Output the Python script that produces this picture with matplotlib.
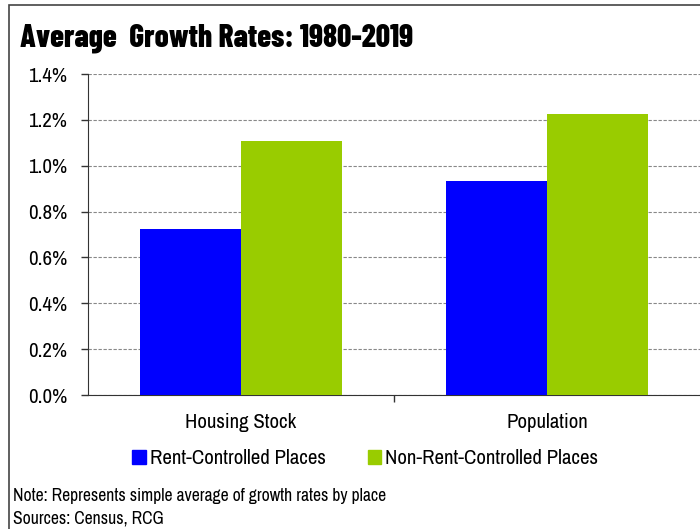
import matplotlib
matplotlib.use('Agg')
import matplotlib.pyplot as plt
import matplotlib.patches as mpatches
import numpy as np

# data
categories = ['Housing Stock', 'Population']
series_names = ['Rent-Controlled Places', 'Non-Rent-Controlled Places']
rent_controlled = [0.724, 0.933]
non_rent_controlled = [1.108, 1.225]
yticks = [0.0, 0.2, 0.4, 0.6, 0.8, 1.0, 1.2, 1.4]

plt.rcParams['font.family'] = ['Archivo Narrow', 'DejaVu Sans']
plt.rcParams['font.stretch'] = 'condensed'
TITLE_FONT = ['Barlow Condensed', 'DejaVu Sans']

fig = plt.figure(figsize=(7.0, 5.29), dpi=100)
ax = fig.add_axes([0.1257, 0.2533, 0.8743, 0.6068])

x = np.arange(len(categories))
w = 0.33
ax.bar(x - w / 2, rent_controlled, w, color='#0000ff', label=series_names[0], zorder=3)
ax.bar(x + w / 2, non_rent_controlled, w, color='#99cc00', label=series_names[1], zorder=3)

ax.set_xlim(-0.5, 1.5)
ax.set_ylim(0, 1.4)
ax.set_yticks(yticks)
ax.set_yticklabels([f'{v:.1f}%' for v in yticks], fontsize=15)
ax.set_xticks([0.5])
ax.set_xticklabels([''])
ax.tick_params(axis='x', length=5, width=1, color='#333333', direction='out')
ax.tick_params(axis='y', length=5, width=1, color='#333333', direction='out', pad=10)
for i, c in enumerate(categories):
    ax.text(i, -0.12, c, ha='center', va='center', fontsize=15, transform=ax.transData)

ax.yaxis.grid(True, linestyle=(0, (3, 1.5)), color='#888888', linewidth=0.8, zorder=0)
for s in ['top', 'right']:
    ax.spines[s].set_visible(False)
ax.spines['left'].set_color('#333333')
ax.spines['bottom'].set_color('#333333')

fig.text(20 / 700, 1 - 38 / 529, 'Average  Growth Rates: 1980-2019', fontsize=22.5,
         fontweight=800, family=TITLE_FONT, ha='left', va='center')

handles = [mpatches.Patch(color='#0000ff'), mpatches.Patch(color='#99cc00')]
fig.legend(handles, series_names, loc='center', bbox_to_anchor=(0.522, 1 - 459 / 529),
           ncol=2, frameon=False, fontsize=15, handlelength=0.65, handleheight=0.65,
           handletextpad=0.2, columnspacing=2.0)

fig.text(13 / 700, 1 - 496 / 529, 'Note: Represents simple average of growth rates by place',
         fontsize=12.7, ha='left', va='center')
fig.text(13 / 700, 1 - 518 / 529, 'Sources: Census, RCG', fontsize=12.7, ha='left', va='center')

# outer frame
fig.patches.append(mpatches.Rectangle((9 / 700, -0.05), 1.1, 1 - 5 / 529 + 0.05,
                                      transform=fig.transFigure, fill=False,
                                      edgecolor='#444444', linewidth=1.2))

fig.savefig('out.png', dpi=100)
